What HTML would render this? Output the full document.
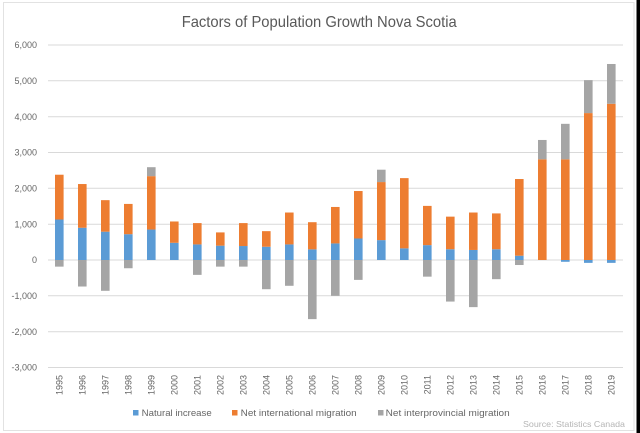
<!DOCTYPE html>
<html>
<head>
<meta charset="utf-8">
<style>
  html, body { margin: 0; padding: 0; background: #fff; }
  svg { display: block; }
  text { font-family: "Liberation Sans", sans-serif; }
</style>
</head>
<body>
<svg width="640" height="433" viewBox="0 0 640 433" xmlns="http://www.w3.org/2000/svg">
  <rect x="0" y="0" width="640" height="433" fill="#ffffff"/>
  <rect x="3.5" y="2.5" width="630.5" height="428" fill="none" stroke="#e2e2e2" stroke-width="1"/>
  <rect x="636.5" y="0" width="3.5" height="433" fill="#000000"/>

  <!-- Title -->
  <text x="181.7" y="27" font-size="16" fill="#595959" textLength="275" lengthAdjust="spacingAndGlyphs">Factors of Population Growth Nova Scotia</text>

  <!-- Gridlines -->
  <g stroke="#d9d9d9" stroke-width="1">
    <line x1="48" y1="45" x2="623" y2="45"/>
    <line x1="48" y1="80.8" x2="623" y2="80.8"/>
    <line x1="48" y1="116.7" x2="623" y2="116.7"/>
    <line x1="48" y1="152.5" x2="623" y2="152.5"/>
    <line x1="48" y1="188.3" x2="623" y2="188.3"/>
    <line x1="48" y1="224.2" x2="623" y2="224.2"/>
    <line x1="48" y1="260" x2="623" y2="260"/>
    <line x1="48" y1="295.8" x2="623" y2="295.8"/>
    <line x1="48" y1="331.7" x2="623" y2="331.7"/>
    <line x1="48" y1="367.5" x2="623" y2="367.5"/>
  </g>

  <!-- Y labels -->
  <g font-size="9" fill="#666666" text-anchor="end">
    <text x="37" y="48.2">6,000</text>
    <text x="37" y="84">5,000</text>
    <text x="37" y="119.9">4,000</text>
    <text x="37" y="155.7">3,000</text>
    <text x="37" y="191.5">2,000</text>
    <text x="37" y="227.4">1,000</text>
    <text x="37" y="263.2">0</text>
    <text x="37" y="299">-1,000</text>
    <text x="37" y="334.9">-2,000</text>
    <text x="37" y="370.7">-3,000</text>
  </g>

  <!-- Bars (data units vertically) -->
  <g transform="matrix(1 0 0 -0.035833 0 260)">
    <!-- Natural increase -->
    <g fill="#5b9bd5">
      <rect x="55" y="0" width="8.6" height="1130"/>
      <rect x="78" y="0" width="8.6" height="900"/>
      <rect x="101" y="0" width="8.6" height="790"/>
      <rect x="124" y="0" width="8.6" height="720"/>
      <rect x="147" y="0" width="8.6" height="850"/>
      <rect x="170" y="0" width="8.6" height="480"/>
      <rect x="193" y="0" width="8.6" height="435"/>
      <rect x="216" y="0" width="8.6" height="400"/>
      <rect x="239" y="0" width="8.6" height="390"/>
      <rect x="262" y="0" width="8.6" height="370"/>
      <rect x="285" y="0" width="8.6" height="435"/>
      <rect x="308" y="0" width="8.6" height="297"/>
      <rect x="331" y="0" width="8.6" height="463"/>
      <rect x="354" y="0" width="8.6" height="600"/>
      <rect x="377" y="0" width="8.6" height="555"/>
      <rect x="400" y="0" width="8.6" height="325"/>
      <rect x="423" y="0" width="8.6" height="415"/>
      <rect x="446" y="0" width="8.6" height="300"/>
      <rect x="469" y="0" width="8.6" height="280"/>
      <rect x="492" y="0" width="8.6" height="300"/>
      <rect x="515" y="0" width="8.6" height="120"/>
      <rect x="561" y="-50" width="8.6" height="50"/>
      <rect x="584" y="-80" width="8.6" height="80"/>
      <rect x="607" y="-80" width="8.6" height="80"/>
    </g>
    <!-- Net international migration -->
    <g fill="#ed7d31">
      <rect x="55" y="1130" width="8.6" height="1250"/>
      <rect x="78" y="900" width="8.6" height="1220"/>
      <rect x="101" y="790" width="8.6" height="880"/>
      <rect x="124" y="720" width="8.6" height="845"/>
      <rect x="147" y="850" width="8.6" height="1490"/>
      <rect x="170" y="480" width="8.6" height="595"/>
      <rect x="193" y="435" width="8.6" height="595"/>
      <rect x="216" y="400" width="8.6" height="370"/>
      <rect x="239" y="390" width="8.6" height="640"/>
      <rect x="262" y="370" width="8.6" height="435"/>
      <rect x="285" y="435" width="8.6" height="890"/>
      <rect x="308" y="297" width="8.6" height="758"/>
      <rect x="331" y="463" width="8.6" height="1017"/>
      <rect x="354" y="600" width="8.6" height="1325"/>
      <rect x="377" y="555" width="8.6" height="1620"/>
      <rect x="400" y="325" width="8.6" height="1960"/>
      <rect x="423" y="415" width="8.6" height="1095"/>
      <rect x="446" y="300" width="8.6" height="910"/>
      <rect x="469" y="280" width="8.6" height="1045"/>
      <rect x="492" y="300" width="8.6" height="1000"/>
      <rect x="515" y="120" width="8.6" height="2140"/>
      <rect x="538" y="0" width="8.6" height="2810"/>
      <rect x="561" y="0" width="8.6" height="2810"/>
      <rect x="584" y="0" width="8.6" height="4100"/>
      <rect x="607" y="0" width="8.6" height="4360"/>
    </g>
    <!-- Net interprovincial migration -->
    <g fill="#a5a5a5">
      <rect x="55" y="-185" width="8.6" height="185"/>
      <rect x="78" y="-740" width="8.6" height="740"/>
      <rect x="101" y="-860" width="8.6" height="860"/>
      <rect x="124" y="-230" width="8.6" height="230"/>
      <rect x="147" y="2340" width="8.6" height="250"/>
      <rect x="193" y="-415" width="8.6" height="415"/>
      <rect x="216" y="-185" width="8.6" height="185"/>
      <rect x="239" y="-185" width="8.6" height="185"/>
      <rect x="262" y="-815" width="8.6" height="815"/>
      <rect x="285" y="-720" width="8.6" height="720"/>
      <rect x="308" y="-1650" width="8.6" height="1650"/>
      <rect x="331" y="-1000" width="8.6" height="1000"/>
      <rect x="354" y="-555" width="8.6" height="555"/>
      <rect x="377" y="2175" width="8.6" height="345"/>
      <rect x="423" y="-465" width="8.6" height="465"/>
      <rect x="446" y="-1160" width="8.6" height="1160"/>
      <rect x="469" y="-1315" width="8.6" height="1315"/>
      <rect x="492" y="-535" width="8.6" height="535"/>
      <rect x="515" y="-140" width="8.6" height="140"/>
      <rect x="538" y="2810" width="8.6" height="540"/>
      <rect x="561" y="2810" width="8.6" height="990"/>
      <rect x="584" y="4100" width="8.6" height="920"/>
      <rect x="607" y="4360" width="8.6" height="1110"/>
    </g>
  </g>

  <!-- X labels (rotated) -->
  <g font-size="9" fill="#666666" text-anchor="end">
    <text transform="translate(62.5,375) rotate(-90)">1995</text>
    <text transform="translate(85.5,375) rotate(-90)">1996</text>
    <text transform="translate(108.5,375) rotate(-90)">1997</text>
    <text transform="translate(131.5,375) rotate(-90)">1998</text>
    <text transform="translate(154.5,375) rotate(-90)">1999</text>
    <text transform="translate(177.5,375) rotate(-90)">2000</text>
    <text transform="translate(200.5,375) rotate(-90)">2001</text>
    <text transform="translate(223.5,375) rotate(-90)">2002</text>
    <text transform="translate(246.5,375) rotate(-90)">2003</text>
    <text transform="translate(269.5,375) rotate(-90)">2004</text>
    <text transform="translate(292.5,375) rotate(-90)">2005</text>
    <text transform="translate(315.5,375) rotate(-90)">2006</text>
    <text transform="translate(338.5,375) rotate(-90)">2007</text>
    <text transform="translate(361.5,375) rotate(-90)">2008</text>
    <text transform="translate(384.5,375) rotate(-90)">2009</text>
    <text transform="translate(407.5,375) rotate(-90)">2010</text>
    <text transform="translate(430.5,375) rotate(-90)">2011</text>
    <text transform="translate(453.5,375) rotate(-90)">2012</text>
    <text transform="translate(476.5,375) rotate(-90)">2013</text>
    <text transform="translate(499.5,375) rotate(-90)">2014</text>
    <text transform="translate(522.5,375) rotate(-90)">2015</text>
    <text transform="translate(545.5,375) rotate(-90)">2016</text>
    <text transform="translate(568.5,375) rotate(-90)">2017</text>
    <text transform="translate(591.5,375) rotate(-90)">2018</text>
    <text transform="translate(614.5,375) rotate(-90)">2019</text>
  </g>

  <!-- Legend -->
  <rect x="133" y="410" width="5.5" height="5.5" fill="#5b9bd5"/>
  <text x="141.7" y="416" font-size="9.5" fill="#666666" textLength="70" lengthAdjust="spacingAndGlyphs">Natural increase</text>
  <rect x="232" y="410" width="5.5" height="5.5" fill="#ed7d31"/>
  <text x="240.7" y="416" font-size="9.5" fill="#666666" textLength="116" lengthAdjust="spacingAndGlyphs">Net international migration</text>
  <rect x="378" y="410" width="5.5" height="5.5" fill="#a5a5a5"/>
  <text x="385.7" y="416" font-size="9.5" fill="#666666" textLength="124" lengthAdjust="spacingAndGlyphs">Net interprovincial migration</text>

  <!-- Source -->
  <text x="523" y="427" font-size="8.5" fill="#b5b5b5" textLength="102" lengthAdjust="spacingAndGlyphs">Source: Statistics Canada</text>
</svg>
</body>
</html>
